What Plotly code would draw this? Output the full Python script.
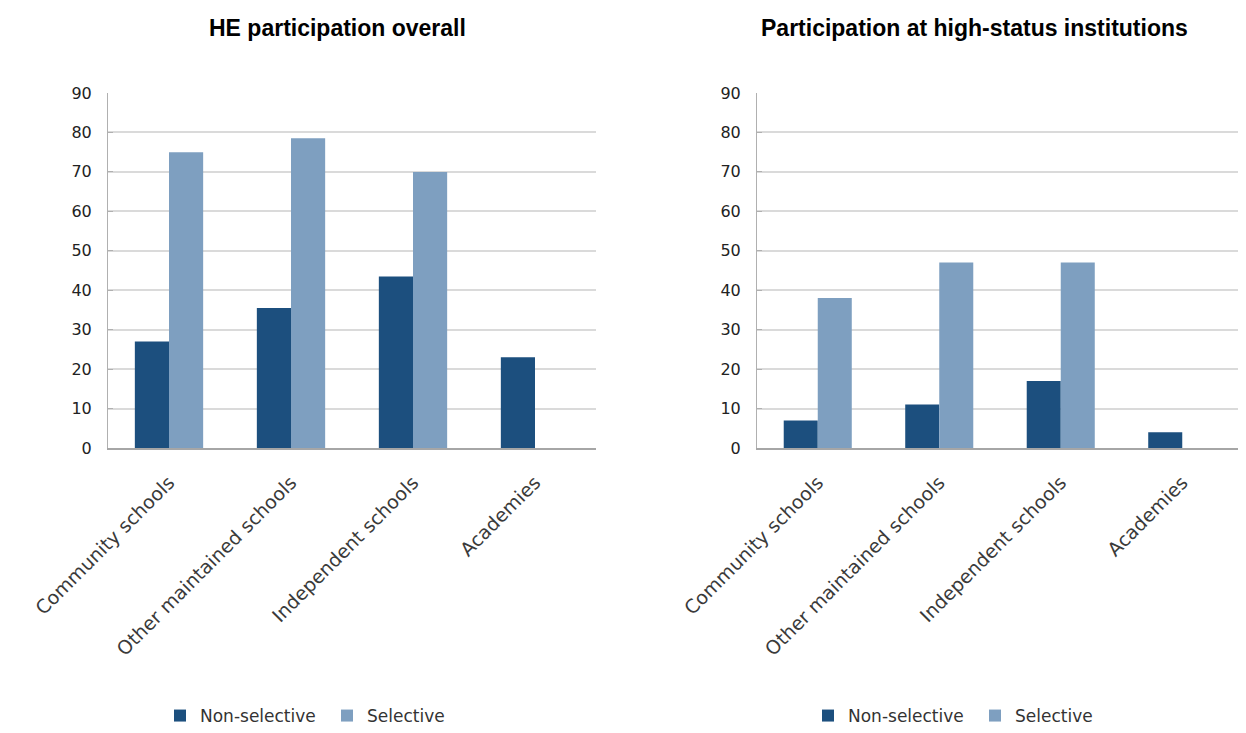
import plotly.graph_objects as go
from plotly.subplots import make_subplots

# categories and values
categories = ["Community schools", "Other maintained schools", "Independent schools", "Academies"]
overall_non_selective = [27, 35.5, 43.5, 23]
overall_selective = [75, 78.5, 70, None]
high_status_non_selective = [7, 11, 17, 4]
high_status_selective = [38, 47, 47, None]
y_ticks = [0, 10, 20, 30, 40, 50, 60, 70, 80, 90]

DARK = "#1c4f7e"
LIGHT = "#7e9fc0"

fig = make_subplots(rows=1, cols=2)

fig.add_trace(go.Bar(x=categories, y=overall_non_selective, name="Non-selective",
                     marker=dict(color=DARK, line=dict(width=0)), legend="legend"), row=1, col=1)
fig.add_trace(go.Bar(x=categories, y=overall_selective, name="Selective",
                     marker=dict(color=LIGHT, line=dict(width=0)), legend="legend"), row=1, col=1)
fig.add_trace(go.Bar(x=categories, y=high_status_non_selective, name="Non-selective",
                     marker=dict(color=DARK, line=dict(width=0)), legend="legend2"), row=1, col=2)
fig.add_trace(go.Bar(x=categories, y=high_status_selective, name="Selective",
                     marker=dict(color=LIGHT, line=dict(width=0)), legend="legend2"), row=1, col=2)

# page pixel -> paper fraction (page body has an 8px margin)
W, H = 1246, 733
OFF = 8
def px(x):
    return (x - OFF) / W
def py(y):
    return 1 - (y - OFF) / H

y_dom = [py(448), py(93)]
xstyle = dict(tickangle=-45, tickfont=dict(family="DejaVu Sans", size=19, color="#3a3a3a"),
              showline=True, linecolor="#a6a6a6", linewidth=2, showgrid=False,
              ticks="", ticklabelstandoff=14, automargin=False, fixedrange=True)
ystyle = dict(range=[0, 90], tickvals=y_ticks, showgrid=True, gridcolor="#dadada", gridwidth=2,
              showline=True, linecolor="#b0b0b0", linewidth=1, ticks="inside", ticklen=5,
              tickcolor="#b0b0b0", tickfont=dict(family="DejaVu Sans", size=16, color="#222"),
              ticklabelstandoff=12, zeroline=False, automargin=False, fixedrange=True)
fig.update_xaxes(**xstyle)
fig.update_yaxes(**ystyle)
fig.update_layout(
    xaxis=dict(domain=[px(108), px(596)]),
    xaxis2=dict(domain=[px(757), px(1243)]),
    yaxis=dict(domain=y_dom),
    yaxis2=dict(domain=y_dom),
)

# titles
fig.add_annotation(text="<b>HE participation overall</b>", x=px(338), y=py(28),
                   xref="paper", yref="paper", xanchor="center", yanchor="middle", showarrow=False,
                   font=dict(family="Liberation Sans", size=23, color="#000"))
fig.add_annotation(text="<b>Participation at high-status institutions</b>", x=px(974), y=py(28),
                   xref="paper", yref="paper", xanchor="center", yanchor="middle", showarrow=False,
                   font=dict(family="Liberation Sans", size=23, color="#000"))

legend_style = dict(orientation="h", yanchor="middle", y=py(716), xanchor="left",
                    font=dict(family="DejaVu Sans", size=17, color="#333"),
                    bgcolor="rgba(0,0,0,0)", itemclick=False, itemdoubleclick=False,
                    itemwidth=30, entrywidth=122, entrywidthmode="pixels")
fig.update_layout(
    legend=dict(x=px(160), **legend_style),
    legend2=dict(x=px(808), **legend_style),
    barmode="group",
    bargap=0.44,
    bargroupgap=0,
    width=W,
    height=H,
    margin=dict(l=0, r=0, t=0, b=0, autoexpand=False),
    plot_bgcolor="white",
    paper_bgcolor="white",
)

fig.write_html("out.html")
